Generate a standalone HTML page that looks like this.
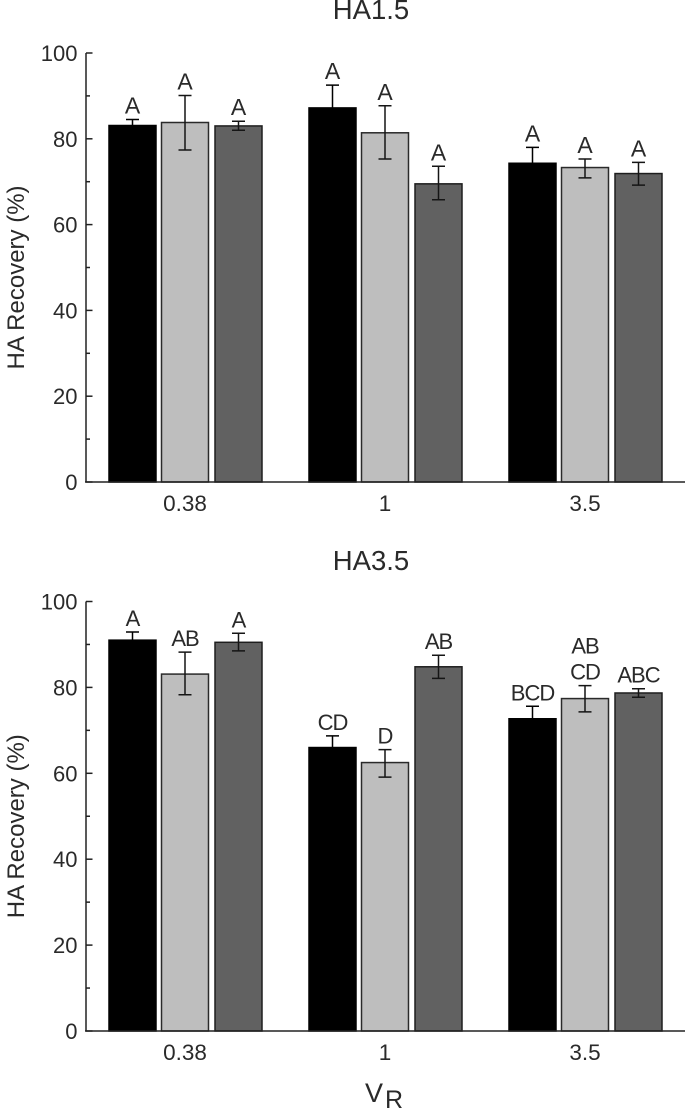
<!DOCTYPE html>
<html lang="en">
<head>
<meta charset="utf-8">
<title>HA Recovery</title>
<style>
html,body{margin:0;padding:0;background:#fff;}
svg{display:block;font-family:"Liberation Sans",Arial,sans-serif;filter:blur(0.35px);}
text{fill:#2a2a2a;}
</style>
</head>
<body>
<svg id="chart" width="685" height="1110" viewBox="0 0 685 1110" xmlns="http://www.w3.org/2000/svg"></svg>
<script>
const categories = ['0.38', '1', '3.5'];
const yTickLabels = [0, 20, 40, 60, 80, 100];
const yMinorTicks = [10, 30, 50, 70, 90];

const topTitle = 'HA1.5';
const topValues = [83.1, 83.8, 83.0, 87.2, 81.4, 69.5, 74.3, 73.3, 71.9];
const topErrHigh = [84.5, 90.1, 84.1, 92.5, 87.7, 73.6, 78.0, 75.3, 74.5];
const topErrLow = [81.7, 77.4, 82.0, 81.9, 75.3, 65.8, 70.6, 70.9, 69.2];
const topLetters = ['A', 'A', 'A', 'A', 'A', 'A', 'A', 'A', 'A'];

const bottomTitle = 'HA3.5';
const bottomValues = [91.0, 83.1, 90.5, 66.0, 62.5, 84.8, 72.7, 77.4, 78.7];
const bottomErrHigh = [92.9, 88.2, 92.6, 68.7, 65.5, 87.5, 75.6, 80.4, 79.7];
const bottomErrLow = [89.1, 78.3, 88.5, 63.3, 59.1, 82.1, 69.8, 74.3, 77.7];
const bottomLetters = ['A', 'AB', 'A', 'CD', 'D', 'AB', 'BCD', 'AB|CD', 'ABC'];

const seriesFills = ['#000000', '#bebebe', '#616161'];
const seriesStrokes = ['#000000', '#2a2a2a', '#1e1e1e'];
const errorStrokes = ['#000000', '#151515', '#151515'];

const svg = document.getElementById('chart');
const NS = 'http://www.w3.org/2000/svg';

function make(tag, attrs, parent) {
  const el = document.createElementNS(NS, tag);
  for (const k in attrs) el.setAttribute(k, attrs[k]);
  parent.appendChild(el);
  return el;
}

function xCenter(groupIndex, seriesIndex) {
  const offsets = [-52.5, 0, 53.5];
  return 185 + 200 * groupIndex + offsets[seriesIndex];
}

function drawPanel(prefix, title, values, errHigh, errLow, letters, y0, y100, titleY, letterSize, letterTrack) {
  const yScale = v => y0 - (y0 - y100) * v / 100;
  const panel = make('g', {}, svg);
  
  

  const titleEl = make('text', {x: 371, y: titleY, 'text-anchor': 'middle', 'font-size': 27.5}, panel);
  titleEl.textContent = title;
  
  

  const yTitleY = (y0 + y100) / 2 + 10;
  const yTitle = make('text', {x: 0, y: 0, transform: 'translate(24 ' + yTitleY + ') rotate(-90)', 'text-anchor': 'middle', 'font-size': 24}, panel);
  yTitle.textContent = 'HA Recovery (%)';
  
  

  values.forEach((v, i) => {
    const g = Math.floor(i / 3), s = i % 3;
    const cx = xCenter(g, s);
    const top = yScale(v);
    const bar = make('rect', {x: cx - 23.5, y: top, width: 47, height: y0 - top, fill: seriesFills[s], stroke: seriesStrokes[s], 'stroke-width': 1.5}, panel);
    
    

    const hi = yScale(errHigh[i]), lo = yScale(errLow[i]);
    const err = make('path', {d: 'M' + (cx - 6.5) + ' ' + hi + 'H' + (cx + 6.5) + 'M' + cx + ' ' + hi + 'V' + lo + 'M' + (cx - 6.5) + ' ' + lo + 'H' + (cx + 6.5), stroke: errorStrokes[s], 'stroke-width': 1.5, fill: 'none'}, panel);
    
    

    const lines = letters[i].split('|');
    lines.forEach((line, li) => {
      const baseline = hi - 6 - (lines.length - 1 - li) * 26;
      const t = make('text', {x: cx, y: baseline, 'text-anchor': 'middle', 'font-size': letterSize, 'letter-spacing': letterTrack}, panel);
      t.textContent = line;
      
      
    });
  });

  const yAxis = make('line', {x1: 86, x2: 86, y1: y100, y2: y0, stroke: '#222', 'stroke-width': 1.5}, panel);
  
  
  const xAxis = make('line', {x1: 85, x2: 685, y1: y0, y2: y0, stroke: '#222', 'stroke-width': 1.5}, panel);
  
  

  yTickLabels.forEach(v => {
    const y = yScale(v);
    const tick = make('line', {x1: 86, x2: 92.5, y1: y, y2: y, stroke: '#222', 'stroke-width': 1.5}, panel);
    
    
    const label = make('text', {x: 77.5, y: y + 8, 'text-anchor': 'end', 'font-size': 22}, panel);
    label.textContent = v;
    
    
  });
  yMinorTicks.forEach(v => {
    const y = yScale(v);
    const tick = make('line', {x1: 86, x2: 90, y1: y, y2: y, stroke: '#222', 'stroke-width': 1.5}, panel);
    
    
  });
  categories.forEach((c, g) => {
    const label = make('text', {x: xCenter(g, 1), y: y0 + 29, 'text-anchor': 'middle', 'font-size': 22.5}, panel);
    label.textContent = c;
    
    
  });
}

drawPanel('top', topTitle, topValues, topErrHigh, topErrLow, topLetters, 482, 53, 19, 23, 0);
drawPanel('bottom', bottomTitle, bottomValues, bottomErrHigh, bottomErrLow, bottomLetters, 1031, 601.5, 570, 22, -1);

const xTitle = make('text', {x: 365, y: 1102, 'font-size': 27}, svg);
xTitle.textContent = 'V';


const xSub = make('text', {x: 385, y: 1108, 'font-size': 25}, svg);
xSub.textContent = 'R';


</script>
</body>
</html>
